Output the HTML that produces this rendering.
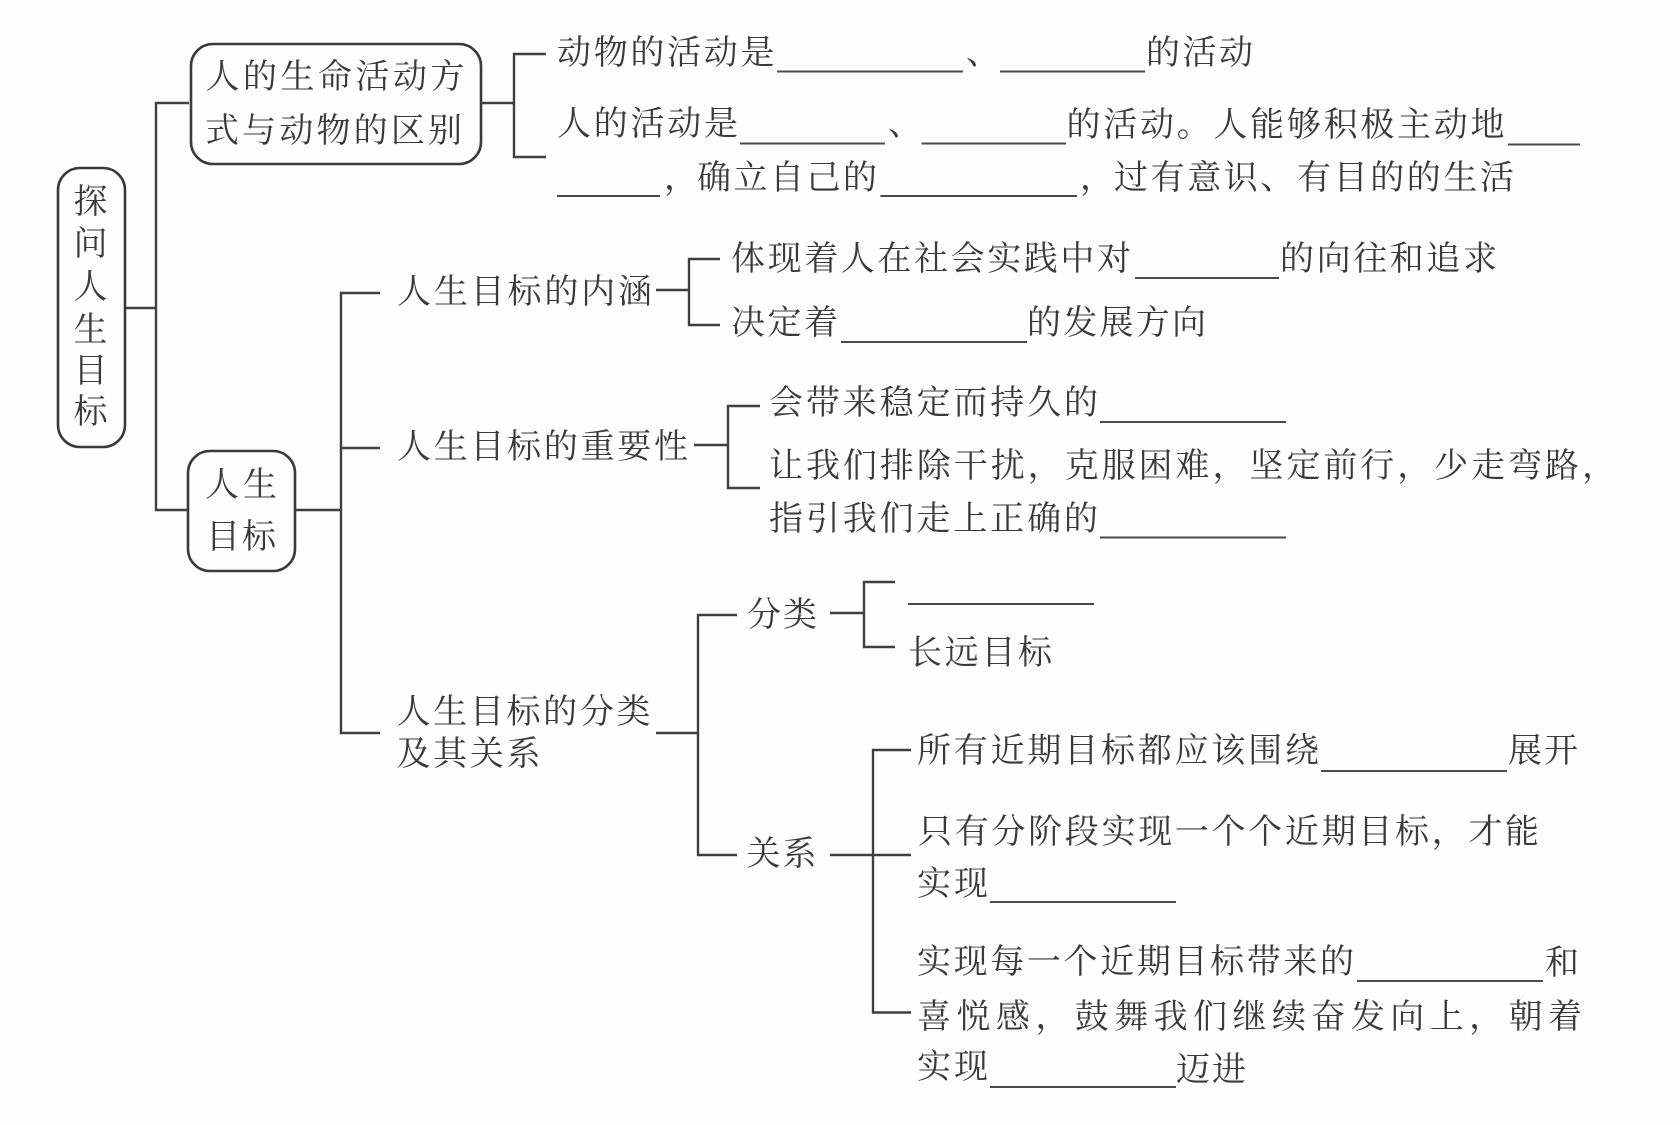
<!DOCTYPE html>
<html lang="zh">
<head>
<meta charset="utf-8">
<title>探问人生目标</title>
<style>
html,body{margin:0;padding:0;background:#fefefe;}
svg{display:block;filter:blur(0.35px);}
text{font-family:"Liberation Serif","Noto Serif CJK SC",serif;font-size:34px;fill:#3a3a3a;}
.l{stroke:#3f3f3f;stroke-width:2.4;fill:none;}
.u{stroke:#4a4a4a;stroke-width:2;fill:none;}
.b{stroke:#3a3a3a;stroke-width:2.6;fill:#fefefe;}
</style>
</head>
<body>
<svg width="1680" height="1125" viewBox="0 0 1680 1125" xmlns="http://www.w3.org/2000/svg">
<rect width="1680" height="1125" fill="#fefefe"/>

<!-- connectors -->
<path class="l" d="M125 308H156M189 103H156V510H188"/>
<path class="l" d="M481 103H514M546 54H514V157H546"/>
<path class="l" d="M296 510H341M380 293H341V733H380M341 448H380"/>
<path class="l" d="M656 290H689M720 259H689V325H720"/>
<path class="l" d="M694 445H728M760 406H728V488H760"/>
<path class="l" d="M656 733H698M737 615H698V855H737"/>
<path class="l" d="M830 613H864M895 582H864V647H895"/>
<path class="l" d="M830 855H911M911 750H873V1012.5H911"/>

<!-- boxes -->
<rect class="b" x="58" y="168" width="67" height="279" rx="22"/>
<rect class="b" x="191" y="44" width="290" height="120" rx="22"/>
<rect class="b" x="188" y="451" width="107" height="120" rx="22"/>

<!-- root vertical text -->
<text x="73.5" y="213">探</text>
<text x="73.5" y="255">问</text>
<text x="73.5" y="298">人</text>
<text x="73.5" y="341">生</text>
<text x="73.5" y="382">目</text>
<text x="73.5" y="423">标</text>

<!-- box text -->
<text x="205.5" y="88" textLength="259">人的生命活动方</text>
<text x="205" y="142" textLength="257">式与动物的区别</text>
<text x="205" y="496" textLength="72">人生</text>
<text x="206" y="548" textLength="70">目标</text>

<!-- first group -->
<text x="557" y="64" textLength="217.5">动物的活动是</text>
<line class="u" x1="777" y1="71.5" x2="963" y2="71.5"/>
<text x="966" y="64">、</text>
<line class="u" x1="1000" y1="71.5" x2="1145" y2="71.5"/>
<text x="1146" y="64" textLength="107">的活动</text>

<text x="557" y="135" textLength="181">人的活动是</text>
<line class="u" x1="740" y1="143.5" x2="885" y2="143.5"/>
<text x="888" y="135">、</text>
<line class="u" x1="921.5" y1="143.5" x2="1066" y2="143.5"/>
<text x="1066.5" y="136" textLength="438">的活动。人能够积极主动地</text>
<line class="u" x1="1508" y1="144.5" x2="1580" y2="144.5"/>

<line class="u" x1="557" y1="196" x2="660" y2="196"/>
<text x="664" y="189">，</text>
<text x="697" y="189" textLength="180">确立自己的</text>
<line class="u" x1="880.5" y1="196" x2="1077" y2="196"/>
<text x="1080" y="189">，</text>
<text x="1114" y="189" textLength="400">过有意识、有目的的生活</text>

<!-- second group -->
<text x="397" y="303" textLength="255">人生目标的内涵</text>
<text x="731" y="270" textLength="400">体现着人在社会实践中对</text>
<line class="u" x1="1135" y1="278" x2="1279" y2="278"/>
<text x="1280" y="270" textLength="217">的向往和追求</text>
<text x="731" y="334" textLength="107">决定着</text>
<line class="u" x1="841" y1="342" x2="1027" y2="342"/>
<text x="1027" y="334" textLength="179">的发展方向</text>

<text x="397" y="458" textLength="291">人生目标的重要性</text>
<text x="769" y="414" textLength="329">会带来稳定而持久的</text>
<line class="u" x1="1100" y1="422" x2="1286" y2="422"/>
<text x="769" y="477" textLength="847">让我们排除干扰，克服困难，坚定前行，少走弯路，</text>
<text x="769" y="530" textLength="329">指引我们走上正确的</text>
<line class="u" x1="1100" y1="537.5" x2="1286" y2="537.5"/>

<!-- third group -->
<text x="396.5" y="723" textLength="254">人生目标的分类</text>
<text x="396.5" y="765" textLength="144">及其关系</text>
<text x="747" y="626" textLength="70">分类</text>
<line class="u" x1="908" y1="604" x2="1094" y2="604"/>
<text x="908" y="664" textLength="144">长远目标</text>
<text x="746.5" y="865" textLength="70">关系</text>

<text x="917" y="762" textLength="402">所有近期目标都应该围绕</text>
<line class="u" x1="1321" y1="771" x2="1507" y2="771"/>
<text x="1508" y="762" textLength="70">展开</text>

<text x="918" y="843" textLength="621">只有分阶段实现一个个近期目标，才能</text>
<text x="917" y="895" textLength="71">实现</text>
<line class="u" x1="990" y1="902" x2="1176" y2="902"/>

<text x="917" y="973" textLength="437">实现每一个近期目标带来的</text>
<line class="u" x1="1357" y1="981" x2="1543" y2="981"/>
<text x="1545" y="974">和</text>
<text x="917" y="1028" textLength="665">喜悦感，鼓舞我们继续奋发向上，朝着</text>
<text x="917" y="1078" textLength="71">实现</text>
<line class="u" x1="990" y1="1087" x2="1176" y2="1087"/>
<text x="1176" y="1081" textLength="70">迈进</text>
</svg>
</body>
</html>
